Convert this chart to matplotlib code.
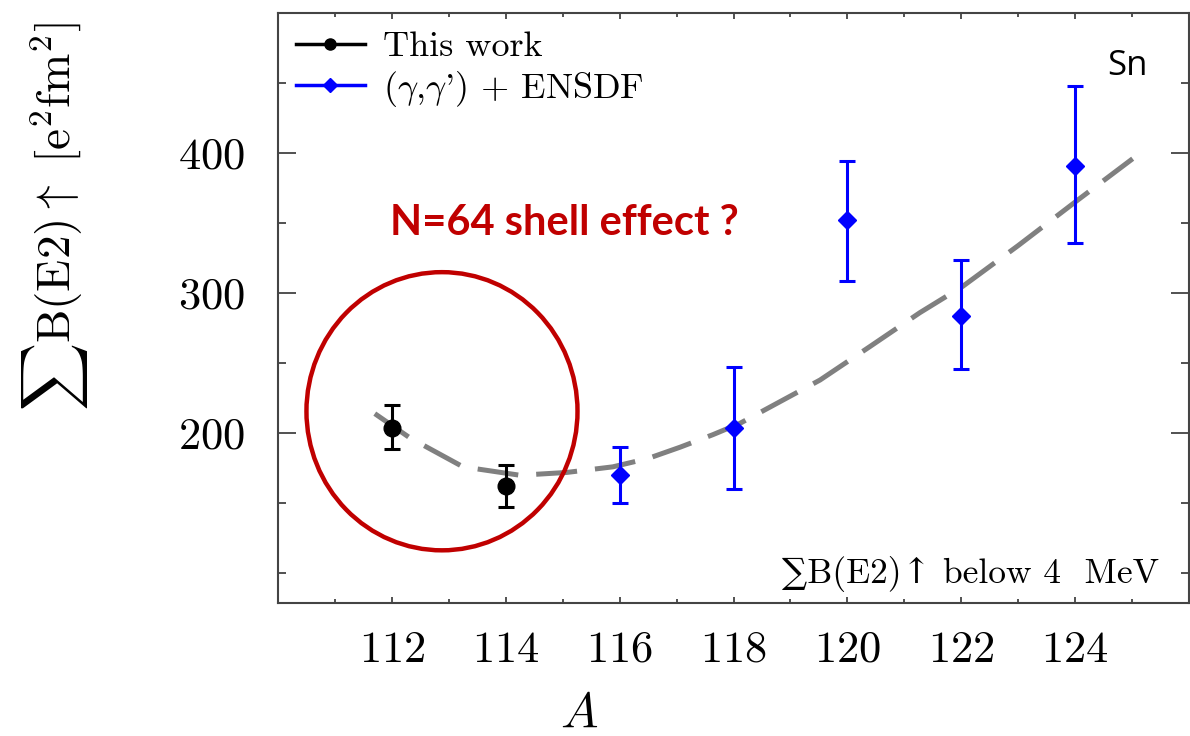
import matplotlib
matplotlib.use("Agg")
import matplotlib.pyplot as plt
from matplotlib.lines import Line2D
from matplotlib.patches import Ellipse

plt.rcParams['font.family'] = 'cmr10'
plt.rcParams['mathtext.fontset'] = 'cm'
plt.rcParams['axes.formatter.use_mathtext'] = True

# data
A_work = [112, 114]
B_work = [204, 162]
err_work_lo = [15, 15]
err_work_hi = [16, 15]

A_ens = [116, 118, 120, 122, 124]
B_ens = [170, 204, 352, 284, 391]
err_ens_lo = [20, 44, 43, 38, 55]
err_ens_hi = [20, 43, 42, 40, 57]

# dashed trend curve (sampled from the figure)
A_fit = [111.70, 112.32, 113.25, 114.25, 115.07, 115.88, 116.5, 117.06, 117.64, 118.11,
         119.52, 120.40, 121.27, 122.03, 123.0, 124.03, 125.01]
B_fit = [214, 196.6, 176, 170, 172, 176, 182, 190, 199, 207,
         238, 262, 286, 305, 334, 366, 396]

fig = plt.figure(figsize=(11.9, 7.36), dpi=100)
ax = fig.add_axes([0.2336, 0.1811, 0.7656, 0.8012])

ax.plot(A_fit, B_fit, color='#808080', lw=3.6, dashes=(8.2, 3.6), zorder=3)

ax.errorbar(A_work, B_work, yerr=[err_work_lo, err_work_hi], fmt='o', color='black',
            markersize=12, elinewidth=2.2, capsize=6, capthick=2.2, zorder=4)
ax.errorbar(A_ens, B_ens, yerr=[err_ens_lo, err_ens_hi], fmt='D', color='#0000ff',
            markersize=9.5, elinewidth=2.2, capsize=6, capthick=2.2, zorder=4)

ax.add_patch(Ellipse((112.88, 215.7), 4.76, 198.6, fill=False,
                     edgecolor='#c00000', lw=3.2, zorder=5))

ax.set_xlim(110, 126)
ax.set_ylim(79, 500)
ax.set_xticks([112, 114, 116, 118, 120, 122, 124])
ax.set_xticks([111, 113, 115, 117, 119, 121, 123, 125], minor=True)
ax.set_yticks([200, 300, 400])
ax.set_yticks([100, 150, 250, 350, 450], minor=True)
ax.tick_params(axis='both', which='both', direction='in', top=True, right=True,
               labelsize=32, color='#333333')
ax.tick_params(axis='x', which='major', length=4, width=1.2, pad=20)
ax.tick_params(axis='x', which='minor', length=3, width=1.2)
ax.tick_params(axis='y', which='major', length=13, width=1.2, pad=24)
ax.tick_params(axis='y', which='minor', length=6, width=1.2)
for s in ax.spines.values():
    s.set_color('#444444')
    s.set_linewidth(1.5)

handles = [Line2D([], [], color='black', marker='o', markersize=8, lw=2.5),
           Line2D([], [], color='#0000ff', marker='D', markersize=7, lw=2.5)]
labels = ['This work', r"($\gamma$,$\gamma$') + ENSDF"]
ax.legend(handles, labels, loc='upper left', frameon=False, fontsize=26,
          handlelength=1.9, handletextpad=0.5, labelspacing=0.15,
          borderaxespad=0.2, borderpad=0.3)

ax.text(0.967, 0.034, '\u2211B(E2)\u2191 below 4  MeV', transform=ax.transAxes,
        ha='right', va='baseline', fontsize=25.5, family=['cmr10', 'DejaVu Serif'])

ax.text(0.123, 0.6235, 'N=64 shell effect ?', transform=ax.transAxes,
        fontsize=30, fontweight='bold', color='#c00000', family='Lato')

fig.text(0.9475, 0.91, 'Sn', fontsize=25, family='Open Sans', ha='center', va='center')

fig.text(0.046, 0.706, r'$\sum\mathrm{B(E2)}\uparrow\ [\mathrm{e}^2\mathrm{fm}^2]$',
         rotation=90, ha='center', va='center', fontsize=34)
fig.text(0.487, 0.03, r'$A$', ha='center', va='center', fontsize=36)

fig.savefig('out.png', dpi=100)
